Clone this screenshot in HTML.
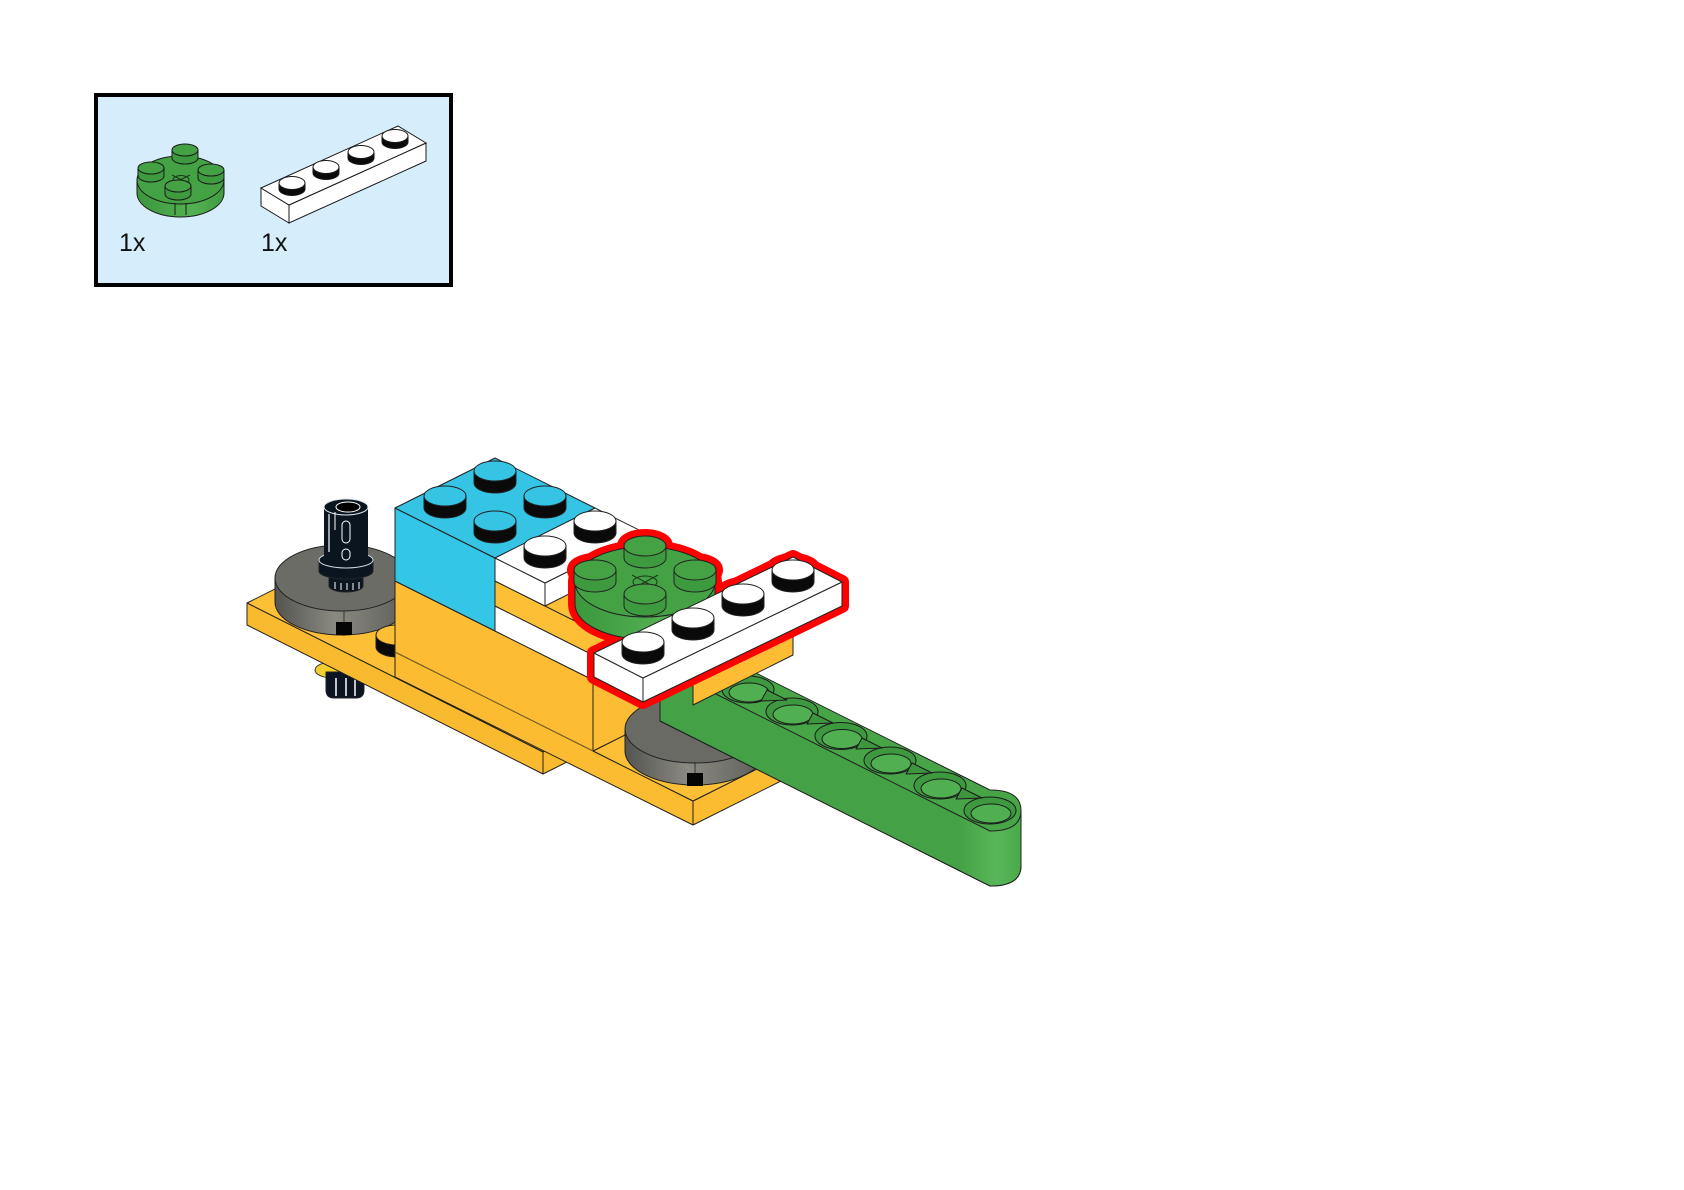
<!DOCTYPE html>
<html>
<head>
<meta charset="utf-8">
<style>
html,body{margin:0;padding:0;background:#fff;}
svg{display:block;}
text{font-family:"Liberation Sans",Arial,sans-serif;}
</style>
</head>
<body>
<svg width="1684" height="1190" viewBox="0 0 1684 1190" xmlns="http://www.w3.org/2000/svg">
<defs>
  <linearGradient id="tside" x1="0" x2="1" y1="0" y2="0">
    <stop offset="0" stop-color="#545450"/>
    <stop offset="0.45" stop-color="#8a8a82"/>
    <stop offset="1" stop-color="#5e5e59"/>
  </linearGradient>
  <linearGradient id="gside" x1="0" x2="1" y1="0" y2="0">
    <stop offset="0" stop-color="#3c973d"/>
    <stop offset="0.65" stop-color="#53b153"/>
    <stop offset="1" stop-color="#3f9c40"/>
  </linearGradient>
  <linearGradient id="bend" x1="960" x2="1021" y1="0" y2="0" gradientUnits="userSpaceOnUse">
    <stop offset="0" stop-color="#45a246"/>
    <stop offset="0.6" stop-color="#58b758"/>
    <stop offset="1" stop-color="#4aa94a"/>
  </linearGradient>
</defs>

<rect x="0" y="0" width="1684" height="1190" fill="#fff"/>

<!-- ===== Parts box ===== -->
<rect x="96" y="95" width="355" height="190" fill="#d6edfc" stroke="#000" stroke-width="4"/>

<!-- green round 2x2 icon -->
<g stroke="#1a1a1a" stroke-width="1">
  <path d="M137,180 L137,193 A43.5,24 0 0 0 224,193 L224,180 Z" fill="url(#gside)"/>
  <ellipse cx="180.5" cy="180" rx="43.5" ry="24" fill="#44a244"/>
  <path d="M172,175 L190,184 M172,184 L190,175" fill="none" stroke="#1a3a1a"/>
  <ellipse cx="181" cy="180" rx="8" ry="4.5" fill="none" stroke="#1a3a1a"/>
  <path d="M175,203 V215 M186,203 V215" fill="none"/>
  <path d="M172,150 L172,158 A13,6 0 0 0 198,158 L198,150 Z" fill="#3d9a3e"/><ellipse cx="185" cy="150" rx="13" ry="6" fill="#44a244"/>
  <path d="M138,168 L138,176 A13,6 0 0 0 164,176 L164,168 Z" fill="#3d9a3e"/><ellipse cx="151" cy="168" rx="13" ry="6" fill="#44a244"/>
  <path d="M198,170 L198,178 A13,6 0 0 0 224,178 L224,170 Z" fill="#3d9a3e"/><ellipse cx="211" cy="170" rx="13" ry="6" fill="#44a244"/>
  <path d="M165,186 L165,194 A13,6 0 0 0 191,194 L191,186 Z" fill="#3d9a3e"/><ellipse cx="178" cy="186" rx="13" ry="6" fill="#44a244"/>
</g>

<!-- white 1x4 icon -->
<g stroke="#1a1a1a" stroke-width="1">
  <polygon points="261,188 289,205 289,223 261,206" fill="#fff"/>
  <polygon points="289,205 426,143 426,161 289,223" fill="#fff"/>
  <polygon points="261,188 398,126 426,143 289,205" fill="#fff"/>
  <path d="M382,136 L382,142 A13,6.5 0 0 0 408,142 L408,136 Z" fill="#0a0a0a"/><ellipse cx="395" cy="136" rx="13" ry="6.5" fill="#fff"/>
  <path d="M348,152 L348,158 A13,6.5 0 0 0 374,158 L374,152 Z" fill="#0a0a0a"/><ellipse cx="361" cy="152" rx="13" ry="6.5" fill="#fff"/>
  <path d="M313,167 L313,173 A13,6.5 0 0 0 339,173 L339,167 Z" fill="#0a0a0a"/><ellipse cx="326" cy="167" rx="13" ry="6.5" fill="#fff"/>
  <path d="M279,183 L279,189 A13,6.5 0 0 0 305,189 L305,183 Z" fill="#0a0a0a"/><ellipse cx="292" cy="183" rx="13" ry="6.5" fill="#fff"/>
</g>

<text x="119" y="251" font-size="25" fill="#111">1x</text>
<text x="261" y="251" font-size="25" fill="#111">1x</text>

<!-- ===== Main assembly ===== -->
<g stroke="#222" stroke-width="1" stroke-linejoin="round">

  <!-- pin bottom under the plate -->
  <ellipse cx="333" cy="670" rx="18" ry="8" fill="#f3cf2e" stroke="#333"/>
  <path d="M326,672 L364,672 L364,690 Q364,698 356,698 L334,698 Q326,698 326,690 Z" fill="#0b1420"/>
  <path d="M336,678 V696 M346,678 V696 M355,678 V696" stroke="#fff" stroke-width="1.5" fill="none"/>

  <!-- left yellow plate -->
  <polygon points="247,603 347,553 643,702 543,752" fill="#fcbf36"/>
  <polygon points="247,603 543,752 543,774 247,625" fill="#f9ba2f"/>
  <polygon points="543,752 643,702 643,724 543,774" fill="#f9ba2f"/>

  <!-- left turntable -->
  <path d="M275,578 L275,602 A67,33 0 0 0 409,602 L409,578 Z" fill="url(#tside)"/>
  <ellipse cx="342" cy="578" rx="67" ry="33" fill="#6c6c67"/>
  <line x1="344" y1="611" x2="344" y2="636" stroke="#333"/>
  <rect x="336" y="622" width="16" height="13" fill="#050505" stroke="none"/>

  <!-- black pin on left turntable -->
  <path d="M329,576 L329,586 A17,6 0 0 0 363,586 L363,576 Z" fill="#0a1520"/>
  <path d="M335,582 V589 M341,583 V590 M347,583 V590 M353,583 V590 M359,582 V589" stroke="#fff" stroke-width="1" fill="none"/>
  <path d="M319,560 L319,571 A27,8 0 0 0 373,571 L373,560 Z" fill="#0a1520"/>
  <ellipse cx="346" cy="560" rx="27" ry="8" fill="#0a1520" stroke="#cfd8e0"/>
  <rect x="324" y="507" width="44" height="53" fill="#0a1520" stroke="none"/>
  <ellipse cx="346" cy="507" rx="22" ry="8" fill="#0a1520" stroke="#dfe6ea"/>
  <ellipse cx="348" cy="507" rx="12" ry="5" fill="#000" stroke="#fff"/>
  <path d="M329,514 V552" stroke="#fff" stroke-width="1.2" fill="none"/>
  <rect x="342" y="521" width="8" height="22" rx="4" fill="none" stroke="#fff"/>
  <rect x="342" y="549" width="8" height="11" rx="4" fill="none" stroke="#fff"/>
  <path d="M335,512 V530" stroke="#fff" stroke-width="1" fill="none"/>

  <!-- yellow stud on left plate -->
  <path d="M376,635 L376,647 A21,10 0 0 0 418,647 L418,635 Z" fill="#0a0a0a"/>
  <ellipse cx="397" cy="635" rx="21" ry="10" fill="#fcbf36"/>

  <!-- right yellow plate -->
  <polygon points="395,652 693,801 693,825 395,677" fill="#fbbc32"/>
  <polygon points="693,801 793,751 793,775 693,825" fill="#fbbc32"/>
  <polygon points="593,751 693,801 793,751 693,701" fill="#fcbf36"/>

  <!-- yellow brick -->
  <polygon points="395,581 593,680 593,751 395,652" fill="#fcbd34"/>
  <polygon points="593,680 693,630 693,701 593,751" fill="#fcbd34"/>
  <line x1="395" y1="652" x2="593" y2="751" stroke="#8a6a25" stroke-width="1"/>

  <!-- blue brick -->
  <polygon points="395,508 495,558 495,631 395,581" fill="#34c6e6"/>
  <polygon points="395,508 495,458 595,508 495,558" fill="#35c4e4"/>
  <path d="M474,471 L474,483 A21,10 0 0 0 516,483 L516,471 Z" fill="#0a0a0a"/><ellipse cx="495" cy="471" rx="21" ry="10" fill="#35c4e4"/>
  <path d="M424,496 L424,508 A21,10 0 0 0 466,508 L466,496 Z" fill="#0a0a0a"/><ellipse cx="445" cy="496" rx="21" ry="10" fill="#35c4e4"/>
  <path d="M524,496 L524,508 A21,10 0 0 0 566,508 L566,496 Z" fill="#0a0a0a"/><ellipse cx="545" cy="496" rx="21" ry="10" fill="#35c4e4"/>
  <path d="M474,521 L474,533 A21,10 0 0 0 516,533 L516,521 Z" fill="#0a0a0a"/><ellipse cx="495" cy="521" rx="21" ry="10" fill="#35c4e4"/>

  <!-- lower white plate -->
  <polygon points="495,606 593,655 593,680 495,631" fill="#fff"/>
  <polygon points="593,655 693,605 693,630 593,680" fill="#fff"/>

  <!-- middle yellow plate (front + top) -->
  <polygon points="495,581 693,680 693,705 495,606" fill="#fcbf36"/>
  <polygon points="495,581 595,531 793,630 693,680" fill="#fcbf36"/>

  <!-- upper white 1x2 plate -->
  <polygon points="495,558 545,583 545,606 495,581" fill="#fff"/>
  <polygon points="545,583 645,533 645,556 545,606" fill="#fff"/>
  <polygon points="495,558 595,508 645,533 545,583" fill="#fff"/>
  <path d="M574,521 L574,533 A21,10 0 0 0 616,533 L616,521 Z" fill="#0a0a0a"/><ellipse cx="595" cy="521" rx="21" ry="10" fill="#fff"/>
  <path d="M524,546 L524,558 A21,10 0 0 0 566,558 L566,546 Z" fill="#0a0a0a"/><ellipse cx="545" cy="546" rx="21" ry="10" fill="#fff"/>

  <!-- right turntable -->
  <path d="M625,729 L625,751 A70,34 0 0 0 765,751 L765,729 Z" fill="url(#tside)"/>
  <ellipse cx="695" cy="729" rx="70" ry="34" fill="#6a6a65"/>
  <line x1="695" y1="762" x2="695" y2="786" stroke="#333"/>
  <rect x="687" y="773" width="16" height="13" fill="#050505" stroke="none"/>

  <!-- green beam -->
  <path d="M660,666 L990,831 Q1021,831 1021,810.5 L1021,866 Q1021,886 990,886 L660,721 Z" fill="#44a145"/>
  <path d="M960,816 L990,831 Q1021,831 1021,810.5 L1021,866 Q1021,886 990,886 L960,871 Z" fill="url(#bend)" stroke="none"/>
  <path d="M660,721 L990,886 Q1021,886 1021,866 L1021,810.5" fill="none"/>
  <path d="M700,645 L990,790 Q1021,790 1021,810.5 Q1021,831 990,831 L700,686 Z" fill="#47a447"/>
  <g stroke="#1b1b1b">
    <ellipse cx="748" cy="689.5" rx="26" ry="13.5" fill="#3e983f"/><ellipse cx="749" cy="692.5" rx="20" ry="9.5" fill="#50af50"/>
    <ellipse cx="792" cy="711.5" rx="26" ry="13.5" fill="#3e983f"/><ellipse cx="793" cy="714.5" rx="20" ry="9.5" fill="#50af50"/>
    <ellipse cx="841" cy="736" rx="26" ry="13.5" fill="#3e983f"/><ellipse cx="842" cy="739" rx="20" ry="9.5" fill="#50af50"/>
    <ellipse cx="890" cy="760.5" rx="26" ry="13.5" fill="#3e983f"/><ellipse cx="891" cy="763.5" rx="20" ry="9.5" fill="#50af50"/>
    <ellipse cx="940" cy="785.5" rx="26" ry="13.5" fill="#3e983f"/><ellipse cx="941" cy="788.5" rx="20" ry="9.5" fill="#50af50"/>
    <ellipse cx="990" cy="810.5" rx="26" ry="13.5" fill="#3e983f"/><ellipse cx="991" cy="813.5" rx="20" ry="9.5" fill="#50af50"/>
    <polygon points="767,690 787,700 761,701" fill="#3d963e"/>
    <polygon points="813,713 833,723 807,724" fill="#3d963e"/>
    <polygon points="862,738 882,748 856,749" fill="#3d963e"/>
    <polygon points="912,763 932,773 906,774" fill="#3d963e"/>
    <polygon points="962,788 982,798 956,799" fill="#3d963e"/>
  </g>

  <!-- middle yellow plate end face (stub) -->
  <polygon points="693,680 793,630 793,655 693,705" fill="#fcbd34"/>

  <!-- red highlight outline -->
  <g fill="#ff0000" stroke="#ff0000" stroke-width="14" stroke-linejoin="round">
    <ellipse cx="645" cy="582" rx="70" ry="35"/>
    <rect x="575" y="582" width="140" height="22"/>
    <ellipse cx="645" cy="604" rx="70" ry="35"/>
    <ellipse cx="645" cy="546" rx="21" ry="10"/><rect x="624" y="546" width="42" height="12"/>
    <ellipse cx="595" cy="570" rx="21" ry="10"/>
    <ellipse cx="695" cy="570" rx="21" ry="10"/>
    <polygon points="594,653 793,557 842,582 842,606 643,702 594,677"/>
    <ellipse cx="793" cy="570" rx="21" ry="10"/><rect x="772" y="570" width="42" height="12"/>
    <ellipse cx="743" cy="594" rx="21" ry="10"/>
  </g>

  <!-- green round 2x2 plate -->
  <path d="M575,582 L575,604 A70,35 0 0 0 715,604 L715,582 Z" fill="url(#gside)"/>
  <ellipse cx="645" cy="582" rx="70" ry="35" fill="#44a244"/>
  <path d="M632,575 L658,589 M632,589 L658,575" fill="none" stroke="#1a3a1a"/>
  <ellipse cx="645" cy="582" rx="12" ry="6" fill="none" stroke="#1a3a1a"/>
  <path d="M638,604 V617 M652,604 V617" fill="none"/>
  <path d="M624,546 L624,558 A21,10 0 0 0 666,558 L666,546 Z" fill="#3d9a3e"/><ellipse cx="645" cy="546" rx="21" ry="10" fill="#44a244"/>
  <path d="M574,570 L574,582 A21,10 0 0 0 616,582 L616,570 Z" fill="#3d9a3e"/><ellipse cx="595" cy="570" rx="21" ry="10" fill="#44a244"/>
  <path d="M674,570 L674,582 A21,10 0 0 0 716,582 L716,570 Z" fill="#3d9a3e"/><ellipse cx="695" cy="570" rx="21" ry="10" fill="#44a244"/>
  <path d="M624,594 L624,606 A21,10 0 0 0 666,606 L666,594 Z" fill="#3d9a3e"/><ellipse cx="645" cy="594" rx="21" ry="10" fill="#44a244"/>

  <!-- white 1x4 plate -->
  <polygon points="594,653 643,678 643,702 594,677" fill="#fff"/>
  <polygon points="643,678 842,582 842,606 643,702" fill="#fff"/>
  <polygon points="594,653 793,557 842,582 643,678" fill="#fff"/>
  <path d="M772,570 L772,582 A21,10 0 0 0 814,582 L814,570 Z" fill="#0a0a0a"/><ellipse cx="793" cy="570" rx="21" ry="10" fill="#fff"/>
  <path d="M722,594 L722,606 A21,10 0 0 0 764,606 L764,594 Z" fill="#0a0a0a"/><ellipse cx="743" cy="594" rx="21" ry="10" fill="#fff"/>
  <path d="M672,618 L672,630 A21,10 0 0 0 714,630 L714,618 Z" fill="#0a0a0a"/><ellipse cx="693" cy="618" rx="21" ry="10" fill="#fff"/>
  <path d="M622,642 L622,654 A21,10 0 0 0 664,654 L664,642 Z" fill="#0a0a0a"/><ellipse cx="643" cy="642" rx="21" ry="10" fill="#fff"/>
</g>
</svg>
</body>
</html>
